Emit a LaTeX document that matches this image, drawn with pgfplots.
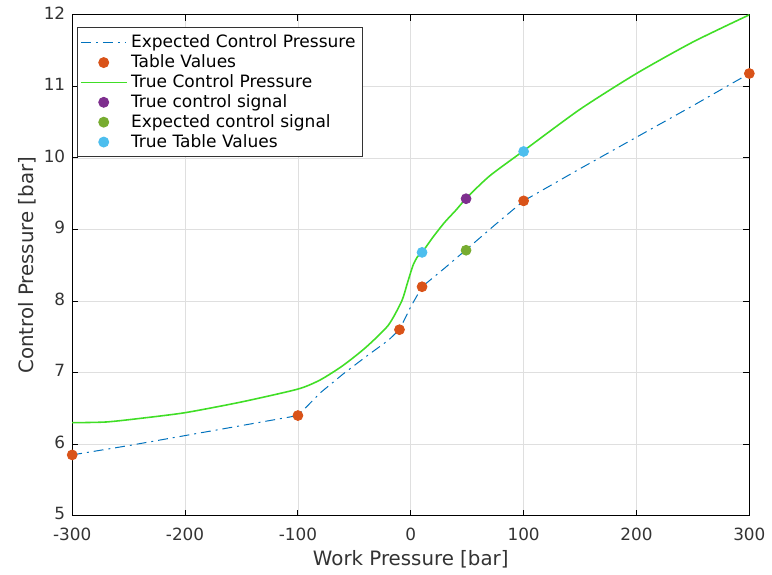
\documentclass[border=0pt]{standalone}
\usepackage{pgfplots}
\pgfplotsset{compat=1.18}
\usepackage{fontspec}
\setmainfont{DejaVu Sans}
\definecolor{mblue}{rgb}{0,0.447,0.741}
\definecolor{morange}{rgb}{0.85,0.325,0.098}
\definecolor{mpurple}{rgb}{0.494,0.184,0.556}
\definecolor{mgreen}{rgb}{0.466,0.674,0.188}
\definecolor{mcyan}{rgb}{0.301,0.745,0.933}
\definecolor{tgreen}{rgb}{0.25,0.87,0.15}
\begin{document}
\begin{tikzpicture}
\begin{axis}[
  scale only axis,
  width=342pt, height=253pt,
  xmin=-300, xmax=300, ymin=5, ymax=12,
  xtick={-300,-200,...,300},
  ytick={5,6,...,12},
  grid=major,
  grid style={gray!25, line width=0.4pt},
  axis line style={black, line width=0.6pt},
  tick align=inside,
  tick style={black, line width=0.5pt},
  major tick length=3pt,
  /pgf/number format/assume math mode=true,
  ticklabel style={font=\fontsize{8.5}{10}\selectfont, text=black!80},
  xticklabel style={yshift=-2.5pt},
  yticklabel style={yshift=1pt},
  xlabel={Work Pressure [bar]},
  ylabel={Control Pressure [bar]},
  xlabel style={yshift=2pt},
  ylabel style={yshift=-3pt},
  label style={font=\fontsize{10}{12}\selectfont, text=black!80},
  legend style={at={(0.007,0.975)}, anchor=north west, font=\fontsize{8.6}{10}\selectfont,
    draw=black!80, line width=0.5pt, inner sep=1.5pt, row sep=-2pt, legend cell align=left},
  legend image code/.code={
    \draw[mark repeat=2,mark phase=2] plot coordinates {(0cm,0cm) (0.4cm,0cm) (0.8cm,0cm)};},
]
\addplot[mblue, line width=0.5pt, dash pattern=on 5pt off 2.5pt on 1pt off 2.5pt] coordinates {
(-300,5.85) (-250,5.98) (-200,6.12) (-150,6.26) (-100,6.40) (-80,6.72) (-60,6.98) (-40,7.22) (-20,7.45) (-10,7.60) (0,7.92) (10,8.20) (30,8.46) (50,8.73) (75,9.07) (100,9.40) (150,9.85) (200,10.29) (250,10.73) (300,11.18)
};
\addlegendentry{Expected Control Pressure}
\addplot[only marks, mark=*, mark size=2.5pt, color=morange] coordinates {
(-300,5.85) (-100,6.40) (-10,7.60) (10,8.20) (100,9.40) (300,11.18)
};
\addlegendentry{Table Values}
\addplot[tgreen, line width=0.8pt, smooth, tension=0.4] coordinates {
(-300,6.30) (-270,6.31) (-240,6.36) (-200,6.44) (-150,6.59) (-100,6.77) (-80,6.90) (-60,7.10) (-40,7.35) (-20,7.66) (-8,8.00) (-3,8.25) (2,8.50) (6,8.62) (10,8.68) (20,8.90) (30,9.10) (40,9.27) (50,9.45) (70,9.75) (100,10.10) (150,10.68) (200,11.18) (250,11.62) (300,12.00)
};
\addlegendentry{True Control Pressure}
\addplot[only marks, mark=*, mark size=2.5pt, color=mpurple] coordinates {(49,9.43)};
\addlegendentry{True control signal}
\addplot[only marks, mark=*, mark size=2.5pt, color=mgreen] coordinates {(49,8.71)};
\addlegendentry{Expected control signal}
\addplot[only marks, mark=*, mark size=2.5pt, color=mcyan] coordinates {(10,8.68) (100,10.09)};
\addlegendentry{True Table Values}
\end{axis}
\path (current bounding box.west) ++(-6pt,0) coordinate (padl);
\useasboundingbox (current bounding box.south east) rectangle (padl |- current bounding box.north);
\end{tikzpicture}
\end{document}
